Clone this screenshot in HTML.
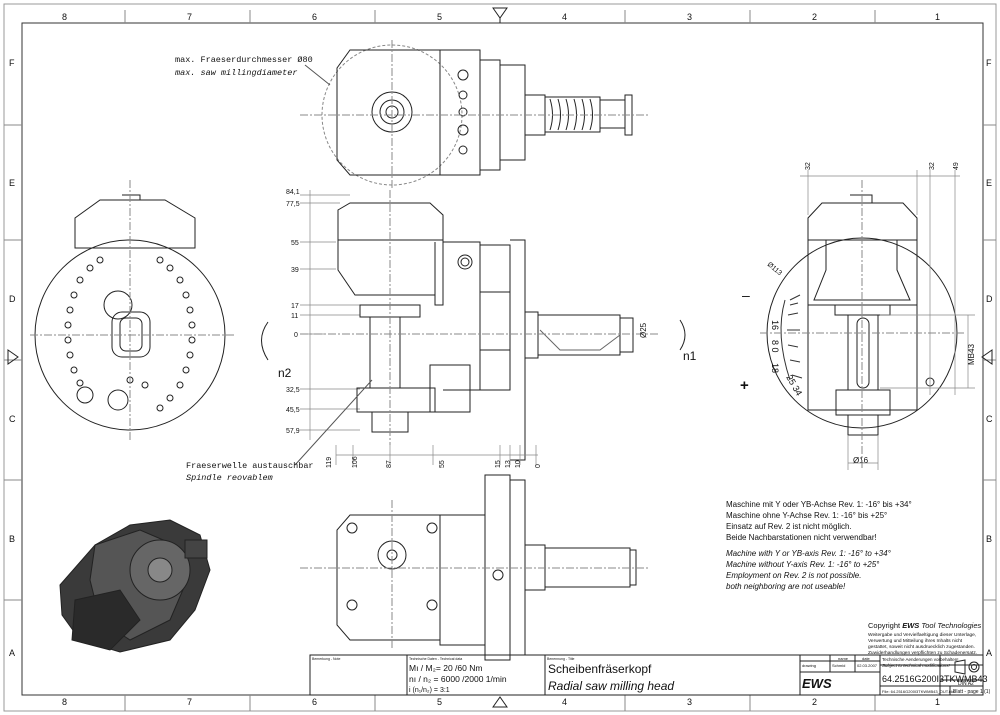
<!DOCTYPE html>
<html><head><meta charset="utf-8"><style>
html,body{margin:0;padding:0;background:#fff}
svg{display:block}
text{font-family:"Liberation Sans",sans-serif;fill:#111}
.m{font-family:"Liberation Mono",monospace}
</style></head><body>
<svg width="1000" height="715" viewBox="0 0 1000 715" xmlns="http://www.w3.org/2000/svg" fill="none" stroke="#222" stroke-width="1">
<rect x="4" y="4" width="992" height="707" stroke="#999"/>
<rect x="22" y="23" width="961" height="672" stroke="#333"/>
<g font-size="9" stroke="none">
<text x="62" y="20">8</text><text x="187" y="20">7</text><text x="312" y="20">6</text><text x="437" y="20">5</text><text x="562" y="20">4</text><text x="687" y="20">3</text><text x="812" y="20">2</text><text x="935" y="20">1</text>
<text x="62" y="705">8</text><text x="187" y="705">7</text><text x="312" y="705">6</text><text x="437" y="705">5</text><text x="562" y="705">4</text><text x="687" y="705">3</text><text x="812" y="705">2</text><text x="935" y="705">1</text>
<text x="9" y="66">F</text><text x="9" y="186">E</text><text x="9" y="302">D</text><text x="9" y="422">C</text><text x="9" y="542">B</text><text x="9" y="656">A</text>
<text x="986" y="66">F</text><text x="986" y="186">E</text><text x="986" y="302">D</text><text x="986" y="422">C</text><text x="986" y="542">B</text><text x="986" y="656">A</text>
</g>
<g stroke="#888"><path d="M125 10V23M250 10V23M375 10V23M625 10V23M750 10V23M875 10V23M125 695V711M250 695V711M375 695V711M625 695V711M750 695V711M875 695V711M4 125H22M4 240H22M4 360H22M4 480H22M4 600H22M983 125H996M983 240H996M983 360H996M983 480H996M983 600H996"/></g>
<path d="M493 8L500 18L507 8Z M500 18V23M493 707L500 697L507 707Z M8 350L18 357L8 364Z M992 350L982 357L992 364Z"/>

<!-- TOP VIEW -->
<circle cx="392" cy="115" r="70" stroke="#888" stroke-dasharray="3 2"/>
<path d="M350 50H440V175H350L337 160V68Z"/>
<path d="M440 50H480V175H440Z"/>
<path d="M480 60H500V170H480Z M500 65H525V160H500Z"/>
<circle cx="392" cy="112" r="20"/><circle cx="392" cy="112" r="12"/><circle cx="392" cy="112" r="6"/>
<g><circle cx="463" cy="75" r="5"/><circle cx="463" cy="95" r="4"/><circle cx="463" cy="112" r="4"/><circle cx="463" cy="130" r="5"/><circle cx="463" cy="150" r="4"/></g>
<path d="M525 95H545V135H525Z M545 97H600V132H545Z M600 100H625V128H600Z M625 95H632V135H625Z"/>
<path d="M550 99Q555 115 550 130M558 99Q563 115 558 130M566 99Q571 115 566 130M574 99Q579 115 574 130M582 99Q587 115 582 130M590 99Q595 115 590 130"/>
<path d="M300 115H650M392 40V190" stroke="#888" stroke-dasharray="8 2 2 2"/>
<g font-size="8.5" stroke="none"><text x="175" y="62" class="m">max. Fraeserdurchmesser Ø80</text><text x="175" y="75" class="m" font-style="italic">max. saw millingdiameter</text></g>
<path d="M305 65L330 85" stroke="#555"/>

<!-- FRONT VIEW -->
<path d="M310 190V440M300 195H350M300 203H340M300 242H336M300 269H336M300 305H360M300 315H360M300 334H325M300 389H360M300 409H360M300 430H360" stroke="#888" stroke-width=".7"/>
<g font-size="7" stroke="none"><text x="286" y="194">84,1</text><text x="286" y="206">77,5</text><text x="291" y="245">55</text><text x="291" y="272">39</text><text x="291" y="308">17</text><text x="291" y="318">11</text><text x="294" y="337">0</text><text x="286" y="392">32,5</text><text x="286" y="412">45,5</text><text x="286" y="433">57,9</text></g>
<path d="M338 240V210L350 203H430L443 215V242" />
<path d="M338 240H443V305H435V242M338 240V270L355 295H435"/>
<path d="M360 305H420V317H360Z M370 317H400V388H370Z M357 388H435V412H357Z M372 412H408V432H372Z M430 365H470V412H430Z"/>
<path d="M443 242H480V390H443M480 245H510V390H480M510 240H525V460H510M480 292H510V345M480 350H510"/>
<circle cx="465" cy="262" r="7"/><circle cx="465" cy="262" r="4"/>
<path d="M525 312H538V358H525M538 315H620V355H538M620 318H633V352H620"/>
<path d="M540 330L560 350H600L620 335" stroke="#666"/>
<path d="M300 334H660M390 190V445" stroke="#888" stroke-dasharray="8 2 2 2"/>
<path d="M336 455H538M336 445V465M353 445V465M390 445V465M433 445V465M500 445V465M510 445V465M520 445V465M536 445V465" stroke="#888" stroke-width=".7"/>
<g font-size="7" stroke="none"><text x="331" y="468" transform="rotate(-90 331 468)">119</text><text x="357" y="468" transform="rotate(-90 357 468)">106</text><text x="391" y="468" transform="rotate(-90 391 468)">87</text><text x="444" y="468" transform="rotate(-90 444 468)">55</text><text x="500" y="468" transform="rotate(-90 500 468)">15</text><text x="510" y="468" transform="rotate(-90 510 468)">13</text><text x="520" y="468" transform="rotate(-90 520 468)">10</text><text x="540" y="468" transform="rotate(-90 540 468)">0</text></g>
<text x="646" y="338" font-size="8" stroke="none" transform="rotate(-90 646 338)">Ø25</text>
<path d="M680 320Q690 335 680 350"/><text x="683" y="360" font-size="12" stroke="none">n1</text>
<path d="M268 322Q255 340 268 360"/><text x="278" y="377" font-size="12" stroke="none">n2</text>
<path d="M295 465L372 380" stroke="#555"/>
<g font-size="8.5" stroke="none"><text x="186" y="468" class="m">Fraeserwelle austauschbar</text><text x="186" y="480" class="m" font-style="italic">Spindle reovablem</text></g>

<!-- LEFT VIEW -->
<circle cx="130" cy="335" r="95"/>
<path d="M75 248V218L100 200H165L195 218V248Z M75 248H195"/>
<path d="M122 195H140V200"/>
<rect x="112" y="312" width="38" height="45" rx="10"/><rect x="120" y="318" width="22" height="33" rx="6"/>
<circle cx="118" cy="305" r="14"/><circle cx="85" cy="395" r="8"/><circle cx="118" cy="400" r="10"/>
<g>
<circle cx="80" cy="280" r="3"/><circle cx="74" cy="295" r="3"/><circle cx="70" cy="310" r="3"/><circle cx="68" cy="325" r="3"/><circle cx="68" cy="340" r="3"/><circle cx="70" cy="355" r="3"/><circle cx="74" cy="370" r="3"/>
<circle cx="180" cy="280" r="3"/><circle cx="186" cy="295" r="3"/><circle cx="190" cy="310" r="3"/><circle cx="192" cy="325" r="3"/><circle cx="192" cy="340" r="3"/><circle cx="190" cy="355" r="3"/><circle cx="186" cy="370" r="3"/><circle cx="180" cy="385" r="3"/>
<circle cx="90" cy="268" r="3"/><circle cx="170" cy="268" r="3"/><circle cx="100" cy="260" r="3"/><circle cx="160" cy="260" r="3"/><circle cx="170" cy="398" r="3"/><circle cx="160" cy="408" r="3"/>
<circle cx="80" cy="383" r="3"/><circle cx="130" cy="380" r="3"/><circle cx="145" cy="385" r="3"/>
</g>
<path d="M30 335H235M130 180V440" stroke="#888" stroke-dasharray="8 2 2 2"/>

<!-- RIGHT VIEW -->
<circle cx="862" cy="333" r="95"/>
<path d="M808 410V218L822 203H903L917 218V410Z M808 240H917M808 305H917"/>
<path d="M850 195H872V203"/>
<path d="M826 240H897V270L910 300H814L826 270Z"/>
<path d="M835 305H890V315H835Z M848 315H878V390H848Z M836 390H890V415H836Z M848 415H878V435H848Z"/>
<rect x="857" y="318" width="12" height="70" rx="6"/>
<path d="M785 300Q775 335 790 380" stroke="#333"/>
<path d="M790 300L800 295M790 305L798 303M788 315L798 313M787 330L800 330M788 345L798 347M790 360L800 362M792 375L802 378" stroke="#333"/>
<g font-size="9" stroke="none"><text x="772" y="320" transform="rotate(90 772 320)">16</text><text x="772" y="340" transform="rotate(90 772 340)">8 0</text><text x="772" y="363" transform="rotate(90 772 363)">18</text><text x="786" y="377" transform="rotate(60 786 377)">25 34</text></g>
<text x="742" y="300" font-size="14" stroke="none">–</text><text x="740" y="390" font-size="15" stroke="none" font-weight="bold">+</text>
<text x="767" y="265" font-size="7" stroke="none" transform="rotate(40 767 265)">Ø113</text>
<circle cx="930" cy="382" r="4"/>
<path d="M808 170V215M917 170V215M930 170V395M955 170V395M800 176H935M860 176H960" stroke="#888" stroke-width=".7"/>
<g font-size="7" stroke="none"><text x="810" y="170" transform="rotate(-90 810 170)">32</text><text x="934" y="170" transform="rotate(-90 934 170)">32</text><text x="958" y="170" transform="rotate(-90 958 170)">49</text></g>
<path d="M880 315H975M880 388H975M968 315V388" stroke="#888" stroke-width=".7"/>
<text x="974" y="365" font-size="8" stroke="none" transform="rotate(-90 974 365)">MB43</text>
<path d="M848 435V470M878 435V470M848 463H878" stroke="#888" stroke-width=".7"/>
<text x="853" y="463" font-size="8" stroke="none">Ø16</text>
<path d="M760 333H965M862 180V470" stroke="#888" stroke-dasharray="8 2 2 2"/>

<!-- BOTTOM VIEW -->
<path d="M350 515H440V640H350L337 625V530Z M440 515H485V645H440Z M485 475H510V660H485Z M510 480H525V655H510Z"/>
<circle cx="392" cy="555" r="14"/><circle cx="392" cy="555" r="5"/>
<circle cx="352" cy="528" r="5"/><circle cx="432" cy="528" r="5"/><circle cx="352" cy="605" r="5"/><circle cx="432" cy="605" r="5"/><circle cx="498" cy="575" r="5"/>
<path d="M525 545H545V590H525Z M545 548H630V587H545Z M630 550H636V585H630Z"/>
<path d="M300 568H650M392 500V650" stroke="#888" stroke-dasharray="8 2 2 2"/>

<!-- NOTES -->
<g font-size="8" stroke="none">
<text x="726" y="507">Maschine mit Y oder YB-Achse Rev. 1:    -16° bis +34°</text>
<text x="726" y="518">Maschine ohne Y-Achse          Rev. 1:    -16° bis +25°</text>
<text x="726" y="529">Einsatz auf Rev. 2 ist nicht möglich.</text>
<text x="726" y="540">Beide Nachbarstationen nicht verwendbar!</text>
<g font-style="italic"><text x="726" y="556">Machine with Y or YB-axis       Rev. 1:    -16° to +34°</text>
<text x="726" y="567">Machine without Y-axis             Rev. 1:    -16° to +25°</text>
<text x="726" y="578">Employment on Rev. 2 is not possible.</text>
<text x="726" y="589">both neighboring are not useable!</text></g>
<text x="868" y="628" font-size="7.5">Copyright <tspan font-weight="bold" font-style="italic">EWS</tspan><tspan font-style="italic"> Tool Technologies</tspan></text>
<text x="868" y="636" font-size="4.8">Weitergabe und Vervielfaeltigung dieser Unterlage,</text>
<text x="868" y="642" font-size="4.8">Verwertung und Mitteilung ihres Inhalts nicht</text>
<text x="868" y="648" font-size="4.8">gestattet, soweit nicht ausdruecklich zugestanden.</text>
<text x="868" y="654" font-size="4.8">Zuwiderhandlungen verpflichten zu Schadenersatz.</text>
</g>

<!-- 3D -->
<path d="M60 585L95 545L130 525L170 520L200 535L210 570L195 610L170 640L120 652L80 640L62 615Z" fill="#3a3a3a" stroke="#222"/>
<path d="M95 545L140 530L175 545L185 585L170 620L130 640L100 620L90 580Z" fill="#555"/>
<circle cx="160" cy="570" r="30" fill="#666" stroke="#222"/>
<circle cx="160" cy="570" r="12" fill="#888"/>
<path d="M75 600L120 590L140 620L110 650L72 640Z" fill="#2a2a2a"/>
<rect x="185" y="540" width="22" height="18" fill="#444"/>

<!-- TITLE BLOCK -->
<path d="M310 655H983V695H310Z M407 655V695M545 655V695M800 655V695M880 655V695M940 655V695M800 672H880M800 661H880M830 655V672M855 655V672M880 665H983M940 680H983M880 686H983M950 686V695"/>
<g stroke="none">
<text x="312" y="660" font-size="3.5">Bemerkung - Note</text>
<text x="409" y="660" font-size="3.5">Technische Daten - Technical data</text>
<text x="547" y="660" font-size="3.5">Benennung - Title</text>
<text x="409" y="671" font-size="8.5">Mı / M₂= 20  /60  Nm</text>
<text x="409" y="682" font-size="8.5">nı / n₂ = 6000 /2000  1/min</text>
<text x="409" y="692" font-size="7">i  (n₁/n₂) = 3:1</text>
<text x="548" y="673" font-size="12">Scheibenfräserkopf</text>
<text x="548" y="690" font-size="12" font-style="italic">Radial saw milling head</text>
<text x="838" y="660" font-size="4">name</text><text x="862" y="660" font-size="4">date</text>
<text x="802" y="667" font-size="4">drawing</text><text x="832" y="667" font-size="4">Schmid</text><text x="857" y="667" font-size="4">02.03.2007</text>
<text x="802" y="688" font-size="13" font-weight="bold" font-style="italic">EWS</text>
<text x="882" y="661" font-size="4.5">Technische Aenderungen vorbehalten!</text>
<text x="882" y="667" font-size="4.5" font-style="italic">Subject to technical modifications!</text>
<text x="882" y="682" font-size="9">64.2516G200I3TKWMB43</text>
<text x="882" y="693" font-size="4">File: 64.2516G200I3TKWMB43_OUT.idw</text>
<text x="953" y="693" font-size="5">Blatt - page 1 (1)</text>
<text x="958" y="685" font-size="5">DIN A2</text>
</g>
<path d="M955 662L965 660V674L955 672Z"/><circle cx="974" cy="667" r="5"/><circle cx="974" cy="667" r="2.5"/>
</svg>
</body></html>
